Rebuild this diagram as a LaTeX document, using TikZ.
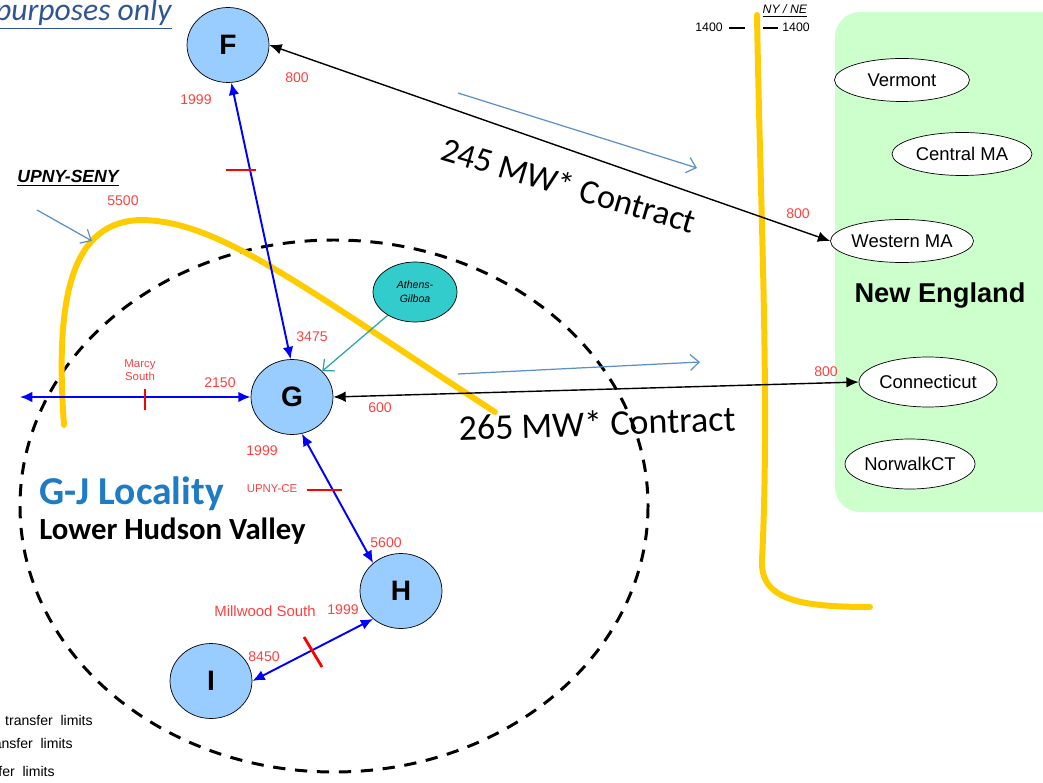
\documentclass[tikz,border=0pt]{standalone}
\usepackage{fontspec}
\setmainfont{Liberation Sans}
\newfontfamily\calibri{Carlito}
\usetikzlibrary{arrows.meta,shapes.geometric}

\definecolor{zoneblue}{HTML}{99CCFF}
\definecolor{gilboa}{HTML}{33CCCC}
\definecolor{negreen}{HTML}{CCFFCC}
\definecolor{seamyellow}{HTML}{FFCC00}
\definecolor{flowblue}{HTML}{5B8FC9}
\definecolor{limitred}{HTML}{FF4040}
\definecolor{locblue}{HTML}{1F7BC4}
\definecolor{notegray}{HTML}{2F5597}

\tikzset{
  zone/.style={ellipse, draw, fill=zoneblue, minimum width=1.64cm, minimum height=1.5cm,
    inner sep=0pt, font=\fontsize{16}{16}\selectfont\bfseries},
  area/.style={ellipse, draw, fill=white, minimum width=2.7cm, minimum height=0.86cm,
    inner sep=0pt, font=\fontsize{10.5}{12}\selectfont},
  link/.style={blue, line width=1.1pt, {Latex[length=7pt,width=6pt]}-{Latex[length=7pt,width=6pt]}},
  tie/.style={black, line width=0.8pt, {Latex[length=7pt,width=6pt]}-{Latex[length=7pt,width=6pt]}},
  flow/.style={flowblue, line width=0.7pt, -{Straight Barb[length=5pt,width=9pt]}},
  cut/.style={red, line width=1.6pt},
  seam/.style={seamyellow, line width=3.4pt, line cap=round},
  lim/.style={text=limitred, font=\fontsize{8}{8}\selectfont, inner sep=0pt, align=center},
  limname/.style={lim, font=\fontsize{6.5}{7.5}\selectfont},
  contract/.style={font=\calibri\fontsize{19.5}{20}\selectfont, inner sep=0pt},
  legend/.style={font=\fontsize{8}{9}\selectfont, anchor=base east, inner sep=0pt}
}

\begin{document}
\begin{tikzpicture}[x=0.02cm, y=-0.02cm]
  \useasboundingbox (0,0) rectangle (1043,783);

  % New England side
  \fill[negreen, rounded corners=0.5cm] (835,12) rectangle (1070,512);
  \node[area] (vt) at (902,80) {Vermont};
  \node[area, minimum width=2.8cm] (cma) at (962,154) {Central MA};
  \node[area] (wma) at (902,241) {Western MA};
  \node[area, minimum width=2.76cm, minimum height=1cm] (ct) at (928,382) {Connecticut};
  \node[area, minimum width=2.6cm, minimum height=1cm] (nct) at (910,464) {NorwalkCT};
  \node[font=\fontsize{15.5}{16}\selectfont\bfseries] (ne) at (940,296) {New England};

  % NY / NE interface
  \draw[seam] (757,15) .. controls (760,200) and (770,400) .. (762,560)
    .. controls (760,600) and (800,607) .. (870,607);
  \node[font=\fontsize{7}{8}\selectfont, inner sep=0pt] (nyne) at (785,11) {\underline{\textit{NY / NE}}};
  \node[font=\fontsize{7}{8}\selectfont, inner sep=0pt] (lim1) at (709,27) {1400};
  \node[font=\fontsize{7}{8}\selectfont, inner sep=0pt] (lim2) at (796,27) {1400};
  \draw[line width=0.8pt] (729,28) -- (745,28);
  \draw[line width=0.8pt] (763,28) -- (778,28);

  % locality boundary and UPNY-SENY
  \draw[line width=1.7pt, dash pattern=on 7pt off 5.5pt] (334,506) ellipse [x radius=314, y radius=266];
  \draw[seam] (64,425) .. controls (55,300) and (70,220) .. (143,220)
    .. controls (220,222) and (300,285) .. (495,412);
  \node[font=\fontsize{10}{11}\selectfont\bfseries\itshape, inner sep=0pt] (upny) at (68,178) {\underline{UPNY-SENY}};
  \node[lim] (l5500) at (123,201) {5500};
  \coordinate (upnyarr) at (37,210);
  \coordinate (upnytip) at (92,241);
  \draw[flow] (upnyarr) -- (upnytip);

  % zones
  \node[zone] (F) at (228,45) {F};
  \node[zone] (G) at (292,397) {G};
  \node[zone] (H) at (401,591) {H};
  \node[zone] (I) at (211,681) {I};
  \node[ellipse, draw, fill=gilboa, minimum width=1.68cm, minimum height=1.2cm, inner sep=0pt,
    align=center, font=\fontsize{6}{8}\selectfont\itshape] (ag) at (415,292) {Athens-\\Gilboa};

  \coordinate (west) at (20,397);
  \draw[link] (F.-85) -- (G.92);
  \draw[link] (west) -- (G);
  \draw[link] (G.-75) -- (H.135);
  \draw[link] (H.225) -- (I.0);
  \draw[gilboa!80!black, line width=0.7pt, -{Straight Barb[length=5pt,width=9pt]}] (ag) -- (G);
  \draw[tie] (F.east) -- (wma.west);
  \draw[tie] (G.east) -- (ct.west);

  % interface cuts
  \draw[cut] (226,170) -- (256,170);
  \draw[cut] (145,389) -- (145,410);
  \draw[cut] (307,490) -- (342,490);
  \draw[cut] (304,637) -- (322,667);

  % limits
  \node[lim] (fs) at (196,100) {1999};
  \node[lim] (fe) at (297,78) {800};
  \node[lim] (gn) at (312,337) {3475};
  \node[limname] (ms) at (140,370) {Marcy\\South};
  \node[lim] (gw) at (220,383) {2150};
  \node[lim] (ge) at (380,408) {600};
  \node[lim] (gs) at (262,451) {1999};
  \node[limname] (uce) at (272,489) {UPNY-CE};
  \node[lim] (hn) at (386,543) {5600};
  \node[lim, font=\fontsize{8.5}{9}\selectfont] (mws) at (265,611) {Millwood South};
  \node[lim] (hw) at (343,610) {1999};
  \node[lim] (ie) at (264,657) {8450};
  \node[lim] (wmal) at (798,214) {800};
  \node[lim] (ctl) at (826,372) {800};

  % contracts
  \coordinate (c1a) at (458,93);
  \coordinate (c1b) at (697,168);
  \draw[flow] (c1a) -- (c1b);
  \node[contract, rotate=-16.5] (c245) at (569,185) {245 MW* Contract};
  \coordinate (c2a) at (458,374);
  \coordinate (c2b) at (700,362);
  \draw[flow] (c2a) -- (c2b);
  \node[contract, font=\calibri\fontsize{20.5}{21}\selectfont, rotate=2] (c265) at (597,423) {265 MW* Contract};

  % locality
  \node[font=\calibri\fontsize{22.5}{23}\selectfont\bfseries, text=locblue, anchor=west, inner sep=0pt] (gj) at (39,494) {G-J Locality};
  \node[font=\calibri\fontsize{17.5}{18}\selectfont\bfseries, anchor=west, inner sep=0pt] (lhv) at (39,531) {Lower Hudson Valley};

  % notes
  \node[font=\calibri\fontsize{18}{19}\selectfont\itshape, text=notegray, anchor=base east, inner sep=0pt] (note) at (172,21) {\underline{purposes only}};
  \node[legend] (t1) at (93,725) {transfer\ \ limits};
  \node[legend] (t2) at (73,748) {transfer\ \ limits};
  \node[legend] (t3) at (55,776) {transfer\ \ limits};
\end{tikzpicture}
\end{document}
